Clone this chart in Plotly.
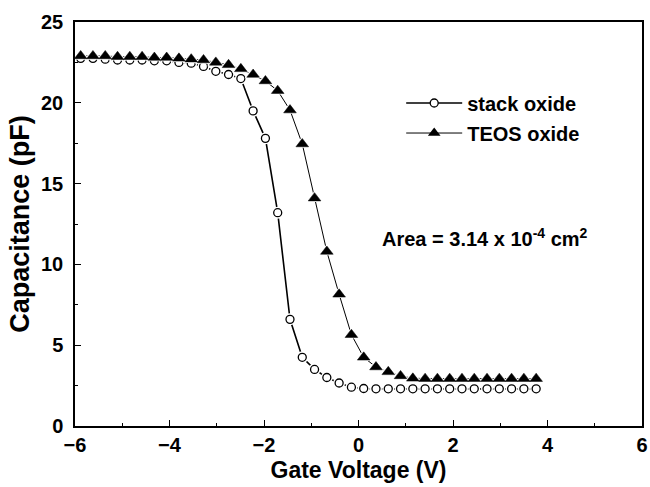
import plotly.graph_objects as go

gate_voltage = [-5.88, -5.62, -5.36, -5.10, -4.84, -4.58, -4.32, -4.06, -3.80, -3.54,
                -3.28, -3.02, -2.75, -2.49, -2.23, -1.97, -1.71, -1.45, -1.19, -0.93,
                -0.67, -0.41, -0.15, 0.11, 0.37, 0.63, 0.89, 1.15, 1.41, 1.67,
                1.93, 2.19, 2.45, 2.72, 2.98, 3.24, 3.50, 3.76]

stack_oxide = [22.75, 22.75, 22.7, 22.65, 22.65, 22.65, 22.6, 22.6, 22.5, 22.45,
               22.25, 21.95, 21.75, 21.5, 19.5, 17.8, 13.2, 6.6, 4.25, 3.5,
               3.0, 2.66, 2.4, 2.32, 2.3, 2.3, 2.3, 2.3, 2.3, 2.3,
               2.3, 2.3, 2.3, 2.3, 2.3, 2.3, 2.3, 2.3]

teos_oxide = [22.9, 22.9, 22.9, 22.85, 22.85, 22.85, 22.8, 22.8, 22.75, 22.7,
              22.65, 22.5, 22.35, 22.1, 21.75, 21.35, 20.75, 19.55, 17.45, 14.1,
              10.8, 8.15, 5.65, 4.25, 3.65, 3.35, 3.1, 2.95, 2.93, 2.93,
              2.93, 2.93, 2.93, 2.93, 2.93, 2.93, 2.93, 2.93]

series_names = ["stack oxide", "TEOS oxide"]
x_ticks = [-6, -4, -2, 0, 2, 4, 6]
y_ticks = [0, 5, 10, 15, 20, 25]

FONT = "Liberation Sans, Arial, sans-serif"

fig = go.Figure()

# connecting lines
fig.add_trace(go.Scatter(x=gate_voltage, y=teos_oxide, mode="lines",
                         line=dict(color="black", width=1), showlegend=False, hoverinfo="skip"))
fig.add_trace(go.Scatter(x=gate_voltage, y=stack_oxide, mode="lines",
                         line=dict(color="black", width=1.6), showlegend=False, hoverinfo="skip"))
# white halos (line gaps around markers)
fig.add_trace(go.Scatter(x=gate_voltage, y=stack_oxide, mode="markers",
                         marker=dict(symbol="circle", size=12, color="white", line=dict(width=0)),
                         showlegend=False, hoverinfo="skip"))
fig.add_trace(go.Scatter(x=gate_voltage, y=stack_oxide, mode="markers",
                         marker=dict(symbol="circle", size=8, color="white",
                                     line=dict(color="black", width=1.3)),
                         showlegend=False))
fig.add_trace(go.Scatter(x=gate_voltage, y=teos_oxide, mode="markers",
                         marker=dict(symbol="triangle-up", size=15, color="white", line=dict(width=0)),
                         showlegend=False, hoverinfo="skip"))
fig.add_trace(go.Scatter(x=gate_voltage, y=teos_oxide, mode="markers",
                         marker=dict(symbol="triangle-up", size=11, color="black",
                                     line=dict(color="black", width=0.5)),
                         showlegend=False))

# legend entries (one legend box per row, to control row spacing)
fig.add_trace(go.Scatter(x=[None], y=[None], mode="lines+markers", name=series_names[0],
                         line=dict(color="black", width=1.6), legend="legend",
                         marker=dict(symbol="circle", size=8, color="white",
                                     line=dict(color="black", width=1.3))))
fig.add_trace(go.Scatter(x=[None], y=[None], mode="lines+markers", name=series_names[1],
                         line=dict(color="black", width=1), legend="legend2",
                         marker=dict(symbol="triangle-up", size=11, color="black")))

fig.add_annotation(x=0.538, y=0.467, xref="paper", yref="paper", xanchor="left", yanchor="middle",
                   text="Area = 3.14 x 10<sup>-4</sup> cm<sup>2</sup>", showarrow=False,
                   font=dict(family=FONT, size=20, color="black", weight="bold"))

axis_common = dict(showline=True, linecolor="black", linewidth=1.5, mirror=True,
                   ticks="inside", ticklen=6, tickwidth=1.3, tickcolor="black",
                   showgrid=False, zeroline=False, automargin=False,
                   ticklabeloverflow="allow",
                   tickfont=dict(family=FONT, size=20, color="black", weight="bold"))

fig.update_xaxes(range=[-6, 6], tickvals=x_ticks,
                 minor=dict(dtick=1, ticks="inside", ticklen=3, tickwidth=1.2, tickcolor="black"),
                 title=dict(text="Gate Voltage (V)", standoff=7,
                            font=dict(family=FONT, size=23, color="black", weight="bold")),
                 **axis_common)
fig.update_yaxes(range=[0, 25], tickvals=y_ticks, ticklabelstandoff=6,
                 minor=dict(dtick=2.5, ticks="inside", ticklen=3, tickwidth=1.2, tickcolor="black"),
                 title=dict(text="Capacitance (pF)", standoff=4,
                            font=dict(family=FONT, size=27, color="black", weight="bold")),
                 **axis_common)

legend_common = dict(xanchor="left", yanchor="middle", bgcolor="rgba(0,0,0,0)", itemwidth=56,
                     font=dict(family=FONT, size=20, color="black", weight="bold"))

fig.update_layout(
    width=650, height=487,
    margin=dict(l=74.5, r=8, t=21.7, b=61.3, autoexpand=False),
    paper_bgcolor="white", plot_bgcolor="white",
    legend=dict(x=0.5753, y=0.7995, **legend_common),
    legend2=dict(x=0.5753, y=0.7252, **legend_common),
    showlegend=True,
)

# remove the page's default body margin so the 650x487 figure fills the window exactly
fig.write_html(
    "out.html",
    config={"displayModeBar": False},
    post_script=("document.documentElement.style.margin='0';"
                 "document.body.style.margin='0';"
                 "document.documentElement.style.overflow='hidden';"
                 "document.body.style.overflow='hidden';"),
)
